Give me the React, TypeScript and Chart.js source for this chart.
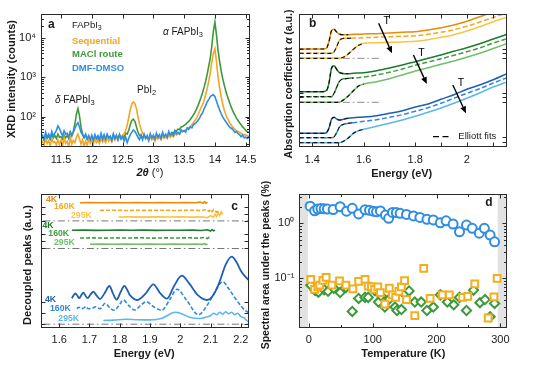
import React, { useEffect, useRef } from 'react';
import { Chart, registerables } from 'chart.js';

Chart.register(...registerables);

const FONT = "'Liberation Sans', Arial, Helvetica, sans-serif";
Chart.defaults.font.family = FONT;
const INK = '#1a1a1a';

const C_OR = '#F5A51F';
const C_GR = '#3C9A3C';
const C_BL = '#2F8DE2';
const OR = ['#EE8A05', '#F5A81E', '#F9C441'];
const GR = ['#1E7B2C', '#3E9B3E', '#6FBF6C'];
const BL = ['#1E5FB4', '#2F88DC', '#5CB6F2'];

// ---------------- Panel a : XRD ----------------
const xrdTheta = [
  11.175,
  11.2, 11.225, 11.25, 11.275, 11.3, 11.325, 11.35, 11.375, 11.4, 11.425, 11.45, 11.475,
  11.5, 11.525, 11.55, 11.575, 11.6, 11.625, 11.65, 11.675, 11.7, 11.725, 11.75, 11.775,
  11.8, 11.825, 11.85, 11.875, 11.9, 11.925, 11.95, 11.975,
  12, 12.025, 12.05, 12.075, 12.1, 12.125, 12.15, 12.175, 12.2, 12.225, 12.25, 12.275,
  12.3, 12.325, 12.35, 12.375, 12.4, 12.425, 12.45, 12.475, 12.5, 12.525, 12.55, 12.575,
  12.6, 12.625, 12.65, 12.675, 12.7, 12.725, 12.75, 12.775, 12.8, 12.825, 12.85, 12.875,
  12.9, 12.925, 12.95, 12.975,
  13, 13.025, 13.05, 13.075, 13.1, 13.125, 13.15, 13.175, 13.2, 13.225, 13.25, 13.275,
  13.3, 13.325, 13.35, 13.375, 13.4, 13.425, 13.45, 13.475, 13.5, 13.525, 13.55, 13.575,
  13.6, 13.625, 13.65, 13.675, 13.7, 13.725, 13.75, 13.775, 13.8, 13.825, 13.85, 13.875,
  13.9, 13.925, 13.95, 13.975,
  14, 14.025, 14.05, 14.075, 14.1, 14.125, 14.15, 14.175, 14.2, 14.225, 14.25, 14.275,
  14.3, 14.325, 14.35, 14.375, 14.4, 14.425, 14.45, 14.475, 14.5, 14.525, 14.55, 14.575,
  14.6,
];
const xrdMACl = [
  28,
  30, 26, 34, 28, 32, 27, 35, 29, 33, 28, 36, 30,
  31, 27, 34, 29, 33, 28, 38, 32, 42, 65, 115, 160,
  105, 55, 36, 30, 33, 27, 31, 26,
  30, 25, 32, 27, 29, 24, 31, 26, 30, 25, 33, 27,
  31, 26, 34, 28, 32, 27, 35, 29, 33, 30, 38, 36,
  45, 62, 80, 86, 76, 56, 40, 33, 34, 29, 33, 28,
  31, 27, 33, 28,
  30, 26, 34, 29, 32, 28, 36, 30, 34, 31, 38, 35,
  40, 37, 44, 43, 48, 47, 55, 56, 60, 64, 70, 76,
  85, 96, 110, 128, 155, 190, 240, 310, 410, 560, 800, 1200,
  1900, 3100, 6200, 14500,
  25000, 12000, 5000, 2600, 1500, 950, 650, 460, 340, 260, 200, 160,
  130, 110, 92, 80, 70, 62, 55, 50, 45, 42, 40, 38,
  37,
];
const xrdSequential = [
  22,
  24, 19, 27, 21, 25, 18, 28, 22, 23, 19, 26, 20,
  26, 18, 29, 21, 24, 17, 30, 20, 25, 22, 30, 36,
  28, 20, 26, 18, 24, 19, 27, 21,
  26, 20, 28, 22, 25, 21, 29, 23, 27, 22, 30, 24,
  28, 23, 31, 25, 30, 25, 33, 28, 34, 36, 45, 60,
  95, 150, 210, 235, 215, 160, 100, 65, 48, 38, 33, 28,
  30, 25, 31, 26,
  29, 24, 32, 27, 30, 26, 33, 28, 31, 28, 35, 30,
  34, 31, 37, 34, 38, 36, 42, 41, 45, 46, 50, 53,
  57, 62, 70, 80, 92, 110, 135, 170, 200, 260, 360, 520,
  800, 1300, 2400, 4000,
  5300, 2500, 1050, 550, 330, 215, 150, 115, 92, 78, 66, 58,
  52, 48, 44, 42, 40, 38, 36, 35, 34, 33, 31, 34,
  32,
];
const xrdDMFDMSO = [
  31,
  34, 26, 40, 30, 36, 28, 42, 32, 38, 45, 58, 50,
  40, 33, 44, 36, 38, 30, 42, 35, 40, 50, 62, 70,
  55, 40, 35, 29, 36, 27, 33, 26,
  34, 25, 35, 28, 33, 26, 38, 27, 35, 27, 36, 29,
  32, 25, 37, 28, 34, 26, 35, 27, 31, 24, 30, 22,
  28, 35, 40, 46, 42, 36, 30, 26, 34, 26, 36, 28,
  33, 25, 37, 29,
  34, 27, 38, 30, 35, 28, 40, 31, 36, 30, 42, 34,
  38, 33, 44, 37, 40, 36, 47, 42, 44, 40, 52, 48,
  55, 52, 62, 66, 72, 80, 92, 110, 125, 160, 190, 240,
  270, 320, 345, 360,
  320, 250, 190, 150, 120, 100, 86, 75, 66, 58, 52, 50,
  45, 40, 42, 37, 35, 31, 34, 29, 30, 28, 31, 27,
  30,
];
const xrdThetaTicks = [11.5, 12, 12.5, 13, 13.5, 14, 14.5];

// ---------------- Panel b : absorption ----------------
const absEnergy = [1.35, 1.4, 1.44, 1.455, 1.465, 1.475, 1.485, 1.495, 1.505, 1.515, 1.525, 1.54, 1.56, 1.58, 1.6, 1.65, 1.7, 1.75, 1.8, 1.85, 1.9, 1.95, 2.0, 2.05, 2.1, 2.16];
const absOrange4K = [9.8, 9.8, 9.8, 9.87, 10.53, 11.63, 11.77, 11.5, 11.3, 11.23, 11.23, 11.23, 11.27, 11.27, 11.3, 11.33, 11.4, 11.47, 11.53, 11.7, 11.93, 12.2, 12.57, 13.03, 13.47, 13.97];
const absOrange160K = [9.37, 9.37, 9.37, 9.37, 9.37, 9.37, 9.53, 10.03, 10.63, 10.83, 10.87, 10.87, 10.9, 10.9, 10.93, 10.97, 11.03, 11.07, 11.13, 11.27, 11.47, 11.73, 12.07, 12.5, 12.93, 13.43];
const absOrange295K = [8.87, 8.87, 8.87, 8.87, 8.87, 8.87, 8.87, 8.87, 8.87, 8.93, 9.03, 9.3, 9.77, 10.17, 10.37, 10.43, 10.47, 10.5, 10.57, 10.73, 10.97, 11.23, 11.6, 12.03, 12.5, 13.03];
const absGreen4K = [5.53, 5.53, 5.53, 5.63, 6.37, 7.87, 8.13, 7.77, 7.47, 7.37, 7.33, 7.33, 7.37, 7.4, 7.43, 7.63, 7.9, 8.2, 8.53, 8.87, 9.2, 9.57, 9.93, 10.33, 10.77, 11.3];
const absGreen160K = [5.03, 5.03, 5.03, 5.03, 5.03, 5.03, 5.37, 5.97, 6.53, 6.77, 6.83, 6.87, 6.9, 6.93, 7.0, 7.2, 7.47, 7.8, 8.17, 8.5, 8.83, 9.17, 9.53, 9.9, 10.37, 10.87];
const absGreen295K = [4.47, 4.47, 4.47, 4.47, 4.47, 4.47, 4.47, 4.47, 4.47, 4.6, 4.77, 5.1, 5.63, 6.1, 6.3, 6.53, 6.83, 7.2, 7.6, 7.93, 8.27, 8.6, 8.97, 9.37, 9.83, 10.37];
const absBlue4K = [1.37, 1.37, 1.37, 1.43, 1.87, 2.77, 2.97, 2.8, 2.7, 2.73, 2.8, 2.87, 2.93, 2.97, 3.0, 3.13, 3.37, 3.63, 4.0, 4.3, 4.77, 5.23, 5.77, 6.2, 6.7, 7.37];
const absBlue160K = [0.93, 0.93, 0.93, 0.93, 0.93, 0.93, 1.03, 1.43, 1.97, 2.2, 2.3, 2.37, 2.43, 2.5, 2.57, 2.73, 2.97, 3.23, 3.57, 3.93, 4.37, 4.87, 5.37, 5.83, 6.37, 6.97];
const absBlue295K = [0.43, 0.43, 0.43, 0.43, 0.43, 0.43, 0.43, 0.43, 0.43, 0.5, 0.63, 0.9, 1.37, 1.63, 1.77, 2.07, 2.37, 2.7, 3.07, 3.47, 3.9, 4.37, 4.87, 5.4, 5.97, 6.53];
const absFitEnd = [12, 13, 15]; // number of points covered by the Elliott fits (4K, 160K, 295K)
const absBaselines = [8.87, 4.47];
const absBaselineEnergy = [1.35, 1.67];
const absTicksX = [1.4, 1.5, 1.6, 1.7, 1.8, 1.9, 2, 2.1];
const absTicksY = [0.53, 1.03, 4.47, 4.97, 5.43, 8.87, 9.37, 9.8];
const arrowStartE = [1.658, 1.793, 1.946];
const arrowStartA = [12.37, 9.2, 6.2];
const arrowEndE = [1.71, 1.845, 1.997];
const arrowEndA = [9.37, 6.3, 3.37];

// ---------------- Panel c : decoupled peaks ----------------
const cOr4kE = [1.669, 1.7, 1.74, 1.78, 1.82, 1.86, 1.9, 1.94, 1.98, 2.02, 2.05, 2.065, 2.075, 2.08, 2.085, 2.09];
const cOr4kY = [12.5, 12.52, 12.49, 12.51, 12.5, 12.52, 12.49, 12.51, 12.5, 12.52, 12.49, 12.56, 12.44, 12.6, 12.45, 12.55];
const cOr160E = [1.735, 1.78, 1.82, 1.86, 1.9, 1.94, 1.98, 2.02, 2.05, 2.07, 2.085, 2.095, 2.1, 2.105, 2.11, 2.12, 2.13];
const cOr160Y = [11.73, 11.75, 11.72, 11.74, 11.73, 11.75, 11.72, 11.74, 11.75, 11.7, 11.82, 11.62, 11.85, 11.6, 11.8, 11.55, 11.75];
const cOr295E = [1.796, 1.84, 1.88, 1.92, 1.96, 2.0, 2.04, 2.07, 2.09, 2.1, 2.11, 2.115, 2.12, 2.125, 2.13, 2.135, 2.14];
const cOr295Y = [11.07, 11.08, 11.06, 11.08, 11.07, 11.09, 11.06, 11.1, 11.0, 11.2, 11.05, 11.35, 11.1, 11.5, 11.2, 11.6, 11.3];
const cGr4kE = [1.642, 1.68, 1.72, 1.76, 1.8, 1.84, 1.88, 1.92, 1.96, 2.0, 2.04, 2.07, 2.09, 2.1, 2.105, 2.11, 2.115];
const cGr4kY = [9.74, 9.76, 9.73, 9.75, 9.76, 9.74, 9.76, 9.73, 9.75, 9.74, 9.76, 9.72, 9.8, 9.66, 9.82, 9.68, 9.76];
const cGr160E = [1.669, 1.71, 1.75, 1.79, 1.83, 1.87, 1.91, 1.95, 1.99, 2.03, 2.06, 2.08, 2.09, 2.095, 2.1];
const cGr160Y = [8.97, 8.98, 8.96, 8.98, 8.97, 8.99, 8.96, 8.98, 8.97, 8.99, 8.96, 9.02, 8.92, 9.03, 8.95];
const cGr295E = [1.702, 1.74, 1.78, 1.82, 1.86, 1.9, 1.94, 1.98, 2.02, 2.05, 2.07, 2.08, 2.085, 2.09];
const cGr295Y = [8.35, 8.36, 8.34, 8.36, 8.35, 8.37, 8.34, 8.36, 8.35, 8.37, 8.33, 8.4, 8.3, 8.38];
const cBl4kE = [1.642, 1.648, 1.653, 1.66, 1.666, 1.673, 1.68, 1.687, 1.694, 1.703, 1.713, 1.724, 1.735, 1.75, 1.766, 1.778, 1.79, 1.802, 1.815, 1.835, 1.857, 1.885, 1.911, 1.935, 1.956, 1.98, 2.005, 2.03, 2.06, 2.088, 2.11, 2.13, 2.15, 2.17, 2.185, 2.2, 2.215, 2.231];
const cBl4kY = [2.94, 3.25, 3.44, 3.2, 2.95, 3.25, 3.5, 3.2, 2.95, 3.3, 3.6, 3.2, 2.87, 3.45, 4.17, 3.4, 2.8, 3.5, 4.17, 3.2, 2.77, 3.4, 4.34, 3.4, 2.9, 4.2, 5.2, 4.4, 3.2, 2.77, 3.3, 4.6, 6.3, 7.1, 6.6, 5.7, 5.1, 4.6];
const cBl160E = [1.658, 1.665, 1.672, 1.68, 1.688, 1.696, 1.71, 1.72, 1.735, 1.752, 1.767, 1.782, 1.797, 1.812, 1.83, 1.85, 1.868, 1.887, 1.912, 1.939, 1.965, 1.989, 2.02, 2.06, 2.09, 2.115, 2.14, 2.16, 2.18, 2.2, 2.215, 2.231];
const cBl160Y = [1.9, 2.05, 1.9, 1.95, 2.1, 1.9, 1.95, 2.1, 1.9, 2.44, 2.0, 1.75, 2.2, 2.77, 2.2, 1.77, 2.2, 2.6, 2.1, 1.75, 2.8, 3.84, 2.8, 1.3, 2.3, 3.6, 4.6, 3.9, 3.0, 2.2, 1.7, 1.45];
const cBl295E = [1.746, 1.78, 1.82, 1.86, 1.9, 1.94, 1.965, 1.983, 2.0, 2.03, 2.066, 2.09, 2.1, 2.11, 2.12, 2.13, 2.14, 2.15, 2.16, 2.17, 2.18, 2.19, 2.2, 2.21, 2.22, 2.231];
const cBl295Y = [0.72, 0.76, 0.85, 0.8, 0.78, 0.95, 1.35, 1.55, 1.45, 1.05, 0.92, 1.1, 1.2, 1.45, 1.3, 1.55, 1.35, 1.6, 1.4, 1.55, 1.3, 1.45, 1.1, 1.0, 0.7, 0.55];
const cBaselines = [10.68, 7.92, 0.35];
const cBaselineEnergy = [1.5, 2.3];
const cTicksX = [1.6, 1.7, 1.8, 1.9, 2, 2.1, 2.2];
const cTicksY = [0.33, 1.43, 2.6, 8.0, 8.67, 9.33, 10.7, 11.37, 12.1];

// ---------------- Panel d : spectral area ----------------
const dTempBlue = [2, 9, 14, 19, 24, 29, 38, 49, 59, 68, 78, 88, 95, 101, 106, 112, 120, 125, 131, 137, 143, 153, 164, 174, 185, 195, 206, 215, 226, 236, 247, 256, 267, 275, 284, 291];
const dAreaBlue = [2.05, 1.69, 1.82, 1.85, 1.83, 1.82, 1.78, 2.0, 1.66, 1.87, 1.48, 1.76, 1.72, 1.66, 1.62, 1.68, 1.41, 1.23, 1.58, 1.57, 1.52, 1.45, 1.36, 1.28, 1.18, 1.15, 1.02, 1.11, 0.97, 0.7, 0.93, 0.81, 0.66, 0.81, 0.61, 0.46];
const dTempOrange = [3, 9, 14, 17, 22, 27, 36, 48, 58, 69, 78, 88, 93, 98, 103, 108, 112, 119, 126, 131, 136, 141, 145, 150, 153, 166, 180, 190, 209, 220, 241, 249, 260, 281, 290, 295];
const dAreaOrange = [0.096, 0.063, 0.07, 0.075, 0.092, 0.104, 0.075, 0.09, 0.075, 0.064, 0.088, 0.096, 0.072, 0.07, 0.063, 0.07, 0.055, 0.034, 0.066, 0.05, 0.045, 0.058, 0.07, 0.091, 0.041, 0.021, 0.152, 0.043, 0.05, 0.05, 0.045, 0.047, 0.079, 0.019, 0.046, 0.1];
const dTempGreen = [3, 10, 15, 24, 30, 39, 49, 58, 68, 78, 88, 93, 103, 109, 113, 119, 126, 135, 138, 145, 150, 157, 166, 176, 185, 195, 206, 217, 227, 236, 247, 258, 268, 276, 284, 291];
const dAreaGreen = [0.075, 0.06, 0.056, 0.062, 0.058, 0.066, 0.055, 0.068, 0.025, 0.043, 0.045, 0.045, 0.06, 0.037, 0.048, 0.03, 0.042, 0.03, 0.026, 0.027, 0.052, 0.059, 0.037, 0.037, 0.026, 0.03, 0.05, 0.037, 0.033, 0.045, 0.026, 0.061, 0.036, 0.041, 0.02, 0.035];
const dExcluded = [[-20, -1.5], [296, 320]];
const dTicksX = [0, 50, 100, 150, 200, 250, 300];

// ---------------- helpers ----------------
const pts = (xs: number[], ys: number[]) => xs.map((x, i) => ({ x, y: ys[i] }));
const fnt = (size: number, style = '') => `${style} ${size}px ${FONT}`.trim();
const SUP: Record<string, string> = { '0': '⁰', '1': '¹', '2': '²', '3': '³', '4': '⁴', '5': '⁵', '-': '⁻' };
const powLabel = (v: number) => {
  const e = Math.log10(v);
  const r = Math.round(e);
  return Math.abs(e - r) < 1e-6 ? '10' + String(r).split('').map((c) => SUP[c]).join('') : '';
};
const logTicks = (lo: number, hi: number) => {
  const out: number[] = [];
  for (let e = -3; e <= 6; e++) for (let m = 1; m <= 9; m++) {
    const v = +(m * Math.pow(10, e)).toPrecision(6);
    if (v >= lo && v <= hi) out.push(v);
  }
  return out;
};
const decLabel = (v: number) => (Number.isInteger(v) ? String(v) : v.toFixed(1));

function axis(o: any) {
  return {
    type: o.type || 'linear',
    min: o.min,
    max: o.max,
    bounds: 'data',
    grid: { display: false, drawTicks: false },
    border: { display: false },
    afterBuildTicks: (s: any) => { s.ticks = o.ticks.map((v: number) => ({ value: v })); },
    afterFit: (s: any) => { if (o.horizontal) s.height = o.size; else s.width = o.size; },
    ticks: {
      display: o.show !== false,
      autoSkip: false,
      maxRotation: 0,
      minRotation: 0,
      padding: o.pad ?? 5,
      color: INK,
      font: { family: FONT, size: 11 },
      callback: (v: any) => o.label(Number(v)),
    },
  };
}

const baseOptions = (pad: any, scales: any) => ({
  animation: false,
  responsive: false,
  maintainAspectRatio: false,
  events: [],
  layout: { padding: { left: 0, bottom: 0, ...pad } },
  plugins: { legend: { display: false }, tooltip: { enabled: false } },
  scales,
});

const line = (data: any[], color: string, width = 1.5, dash: number[] = [], smooth = false) => ({
  data,
  borderColor: color,
  backgroundColor: color,
  borderWidth: width,
  borderDash: dash,
  pointRadius: 0,
  fill: false,
  tension: 0,
  cubicInterpolationMode: smooth ? 'monotone' : 'default',
});

function framePlugin(xAllMajor = false, yAllMajor = false) {
  return {
    id: 'frame',
    afterDraw(chart: any) {
      const { ctx, chartArea: a, scales } = chart;
      const L = Math.round(a.left) + 0.5, R = Math.round(a.right) - 0.5;
      const T = Math.round(a.top) + 0.5, B = Math.round(a.bottom) - 0.5;
      ctx.save();
      ctx.strokeStyle = '#2a2a2a';
      ctx.lineWidth = 1;
      ctx.beginPath();
      for (const t of scales.x.ticks) {
        const p = Math.round(scales.x.getPixelForValue(t.value)) + 0.5;
        if (p < L || p > R) continue;
        const len = xAllMajor || t.label !== '' ? 4 : 2.5;
        ctx.moveTo(p, B); ctx.lineTo(p, B - len);
        ctx.moveTo(p, T); ctx.lineTo(p, T + len);
      }
      for (const t of scales.y.ticks) {
        const p = Math.round(scales.y.getPixelForValue(t.value)) + 0.5;
        if (p < T || p > B) continue;
        const len = yAllMajor || t.label !== '' ? 4 : 2.5;
        ctx.moveTo(L, p); ctx.lineTo(L + len, p);
        ctx.moveTo(R, p); ctx.lineTo(R - len, p);
      }
      ctx.stroke();
      ctx.strokeRect(L, T, R - L, B - T);
      ctx.restore();
    },
  };
}

type Part = { t: string; f: string; dy?: number };
function drawParts(ctx: any, parts: Part[], x: number, y: number, color: string, align = 'left', rot = 0) {
  ctx.save();
  ctx.translate(x, y);
  if (rot) ctx.rotate(rot);
  ctx.textBaseline = 'middle';
  ctx.textAlign = 'left';
  ctx.fillStyle = color;
  let w = 0;
  for (const p of parts) { ctx.font = p.f; w += ctx.measureText(p.t).width; }
  let cx = align === 'center' ? -w / 2 : 0;
  for (const p of parts) {
    ctx.font = p.f;
    ctx.fillText(p.t, cx, p.dy || 0);
    cx += ctx.measureText(p.t).width;
  }
  ctx.restore();
}

function drawArrow(ctx: any, x1: number, y1: number, x2: number, y2: number) {
  const ang = Math.atan2(y2 - y1, x2 - x1);
  const Lh = 7, Wh = 3;
  const bx = x2 - Lh * Math.cos(ang), by = y2 - Lh * Math.sin(ang);
  ctx.beginPath(); ctx.moveTo(x1, y1); ctx.lineTo(bx, by); ctx.stroke();
  ctx.beginPath();
  ctx.moveTo(x2, y2);
  ctx.lineTo(bx + Wh * Math.sin(ang), by - Wh * Math.cos(ang));
  ctx.lineTo(bx - Wh * Math.sin(ang), by + Wh * Math.cos(ang));
  ctx.closePath(); ctx.fill();
}

// ---------------- chart builders ----------------
function buildA() {
  return {
    type: 'line',
    data: {
      datasets: [
        line(pts(xrdTheta, xrdDMFDMSO), C_BL, 1.6),
        line(pts(xrdTheta, xrdSequential), C_OR, 1.6),
        line(pts(xrdTheta, xrdMACl), C_GR, 1.6),
      ],
    },
    options: baseOptions({ top: 14, right: 20 }, {
      x: axis({ min: 11.175, max: 14.57, ticks: xrdThetaTicks, label: (v: number) => String(v), size: 38, horizontal: true, pad: 6 }),
      y: axis({ type: 'logarithmic', min: 17, max: 40000, ticks: logTicks(17, 40000), label: powLabel, size: 41 }),
    }),
    plugins: [framePlugin(), {
      id: 'textA',
      afterDraw(chart: any) {
        const ctx = chart.ctx;
        drawParts(ctx, [{ t: 'a', f: fnt(12, 'bold') }], 48, 25, INK);
        drawParts(ctx, [{ t: 'FAPbI', f: fnt(9.5) }, { t: '3', f: fnt(7), dy: 3 }], 72, 25, INK);
        drawParts(ctx, [{ t: 'Sequential', f: fnt(9.5, 'bold') }], 72, 41, C_OR);
        drawParts(ctx, [{ t: 'MACl route', f: fnt(9.5, 'bold') }], 72, 54.5, C_GR);
        drawParts(ctx, [{ t: 'DMF-DMSO', f: fnt(9.5, 'bold') }], 72, 68, C_BL);
        drawParts(ctx, [{ t: 'α', f: fnt(10, 'italic') }, { t: ' FAPbI', f: fnt(10) }, { t: '3', f: fnt(7.5), dy: 3 }], 163, 32, INK);
        drawParts(ctx, [{ t: 'PbI', f: fnt(10) }, { t: '2', f: fnt(7.5), dy: 3 }], 137, 90, INK);
        drawParts(ctx, [{ t: 'δ', f: fnt(10, 'italic') }, { t: ' FAPbI', f: fnt(10) }, { t: '3', f: fnt(7.5), dy: 3 }], 55, 100, INK);
        drawParts(ctx, [{ t: 'XRD intensity (counts)', f: fnt(11, 'bold') }], 12, 79, INK, 'center', -Math.PI / 2);
        drawParts(ctx, [{ t: '2θ', f: fnt(11, 'bold italic') }, { t: ' (°)', f: fnt(11) }], 150, 173, INK, 'center');
      },
    }],
  };
}

function buildB() {
  const groups = [
    [absOrange4K, absOrange160K, absOrange295K, OR],
    [absGreen4K, absGreen160K, absGreen295K, GR],
    [absBlue4K, absBlue160K, absBlue295K, BL],
  ] as any[];
  const fits: any[] = [];
  const curves: any[] = [];
  groups.forEach((g) => {
    for (let k = 0; k < 3; k++) {
      fits.push(line(pts(absEnergy.slice(0, absFitEnd[k]), g[k].slice(0, absFitEnd[k])), '#111', 1.2, [4, 3], true));
      curves.push(line(pts(absEnergy, g[k]), g[3][k], 1.5, k === 1 ? [5, 2.5] : [], true));
    }
  });
  const bases = absBaselines.map((v) => line(pts(absBaselineEnergy, [v, v]), '#8a8a8a', 1, [7, 3, 1.5, 3]));
  return {
    type: 'line',
    data: { datasets: [...fits, ...curves, ...bases] },
    options: baseOptions({ top: 14, right: 40.3 }, {
      x: axis({ min: 1.35, max: 2.155, ticks: absTicksX, label: (v: number) => (Math.round(v * 10) % 2 === 0 ? decLabel(v) : ''), size: 38, horizontal: true, pad: 6 }),
      y: axis({ min: 0, max: 13.3, ticks: absTicksY, label: () => '', size: 29.3, show: false }),
    }),
    plugins: [framePlugin(true, true), {
      id: 'textB',
      afterDraw(chart: any) {
        const { ctx, scales } = chart;
        ctx.save();
        ctx.strokeStyle = '#000';
        ctx.fillStyle = '#000';
        ctx.lineWidth = 1.4;
        for (let i = 0; i < arrowStartE.length; i++) {
          const x1 = scales.x.getPixelForValue(arrowStartE[i]);
          const y1 = scales.y.getPixelForValue(arrowStartA[i]);
          const x2 = scales.x.getPixelForValue(arrowEndE[i]);
          const y2 = scales.y.getPixelForValue(arrowEndA[i]);
          drawArrow(ctx, x1, y1, x2, y2);
          drawParts(ctx, [{ t: 'T', f: fnt(10.5) }], x1 + 8, y1 - 2, '#000', 'center');
        }
        ctx.lineWidth = 1.3;
        ctx.setLineDash([6, 3.5]);
        ctx.beginPath(); ctx.moveTo(163, 136.7); ctx.lineTo(179, 136.7); ctx.stroke();
        ctx.restore();
        drawParts(ctx, [{ t: 'Elliott fits', f: fnt(9.5) }], 188.3, 136.7, INK);
        drawParts(ctx, [{ t: 'b', f: fnt(12, 'bold') }], 39, 24, INK);
        drawParts(ctx, [{ t: 'Absorption coefficient ', f: fnt(10.5, 'bold') }, { t: 'α', f: fnt(10.5, 'bold italic') }, { t: ' (a.u.)', f: fnt(10.5, 'bold') }], 19.3, 84, INK, 'center', -Math.PI / 2);
        drawParts(ctx, [{ t: 'Energy (eV)', f: fnt(11, 'bold') }], 131.7, 174, INK, 'center');
      },
    }],
  };
}

function buildC() {
  const ds = [
    line(pts(cBl4kE, cBl4kY), BL[0], 1.8, [], true),
    line(pts(cBl160E, cBl160Y), BL[1], 1.6, [4, 2], true),
    line(pts(cBl295E, cBl295Y), BL[2], 1.6, [], true),
    line(pts(cGr4kE, cGr4kY), GR[0], 1.6),
    line(pts(cGr160E, cGr160Y), GR[1], 1.6, [4, 2]),
    line(pts(cGr295E, cGr295Y), GR[2], 1.6),
    line(pts(cOr4kE, cOr4kY), OR[0], 1.6),
    line(pts(cOr160E, cOr160Y), OR[1], 1.6, [4, 2]),
    line(pts(cOr295E, cOr295Y), OR[2], 1.6),
    ...cBaselines.map((v) => line(pts(cBaselineEnergy, [v, v]), '#777', 1, [7, 3, 1.5, 3])),
  ];
  return {
    type: 'line',
    data: { datasets: ds },
    options: baseOptions({ top: 9, right: 16 }, {
      x: axis({ min: 1.54, max: 2.227, ticks: cTicksX, label: decLabel, size: 50.3, horizontal: true, pad: 6 }),
      y: axis({ min: 0, max: 13.37, ticks: cTicksY, label: () => '', size: 41, show: false }),
    }),
    plugins: [framePlugin(false, true), {
      id: 'textC',
      afterDraw(chart: any) {
        const ctx = chart.ctx;
        const lf = fnt(8.7, 'bold');
        drawParts(ctx, [{ t: '4K', f: lf }], 46, 14.5, OR[0]);
        drawParts(ctx, [{ t: '160K', f: lf }], 54, 22, OR[1]);
        drawParts(ctx, [{ t: '295K', f: lf }], 71, 30.3, OR[2]);
        drawParts(ctx, [{ t: '4K', f: lf }], 42.5, 40.5, GR[0]);
        drawParts(ctx, [{ t: '160K', f: lf }], 48.3, 48.8, GR[1]);
        drawParts(ctx, [{ t: '295K', f: lf }], 54, 57.2, GR[2]);
        drawParts(ctx, [{ t: '4K', f: lf }], 45, 115, BL[0]);
        drawParts(ctx, [{ t: '160K', f: lf }], 50, 123.3, BL[1]);
        drawParts(ctx, [{ t: '295K', f: lf }], 58.3, 134, BL[2]);
        drawParts(ctx, [{ t: 'c', f: fnt(12, 'bold') }], 234.5, 21.7, INK, 'center');
        drawParts(ctx, [{ t: 'Decoupled peaks (a.u.)', f: fnt(11, 'bold') }], 28.3, 80, INK, 'center', -Math.PI / 2);
        drawParts(ctx, [{ t: 'Energy (eV)', f: fnt(11, 'bold') }], 144.2, 169, INK, 'center');
      },
    }],
  };
}

function buildD() {
  const sc = (xs: number[], ys: number[], style: string, r: number, color: string) => ({
    data: pts(xs, ys),
    showLine: false,
    pointStyle: style,
    pointRadius: r,
    pointBorderWidth: 2,
    pointBorderColor: color,
    pointBackgroundColor: '#ffffff',
    borderColor: color,
    backgroundColor: '#ffffff',
  });
  return {
    type: 'scatter',
    data: {
      datasets: [
        sc(dTempBlue, dAreaBlue, 'circle', 4.5, C_BL),
        sc(dTempOrange, dAreaOrange, 'rect', 4.8, '#F2AE1C'),
        sc(dTempGreen, dAreaGreen, 'rectRot', 4.6, C_GR),
      ],
    },
    options: baseOptions({ top: 16, right: 40.3 }, {
      x: axis({ min: -15, max: 310, ticks: dTicksX, label: (v: number) => (v % 100 === 0 ? String(v) : ''), size: 50.3, horizontal: true, pad: 6 }),
      y: axis({ type: 'logarithmic', min: 0.01265, max: 3.41, ticks: logTicks(0.0126, 3.41), label: powLabel, size: 44.3 }),
    }),
    plugins: [{
      id: 'bands',
      beforeDatasetsDraw(chart: any) {
        const { ctx, chartArea: a, scales } = chart;
        ctx.save();
        ctx.fillStyle = '#e2e2e2';
        for (const [lo, hi] of dExcluded) {
          const x0 = Math.max(a.left, scales.x.getPixelForValue(lo));
          const x1 = Math.min(a.right, scales.x.getPixelForValue(hi));
          if (x1 > x0) ctx.fillRect(x0, a.top, x1 - x0, a.bottom - a.top);
        }
        ctx.restore();
      },
    }, framePlugin(), {
      id: 'textD',
      afterDraw(chart: any) {
        const ctx = chart.ctx;
        drawParts(ctx, [{ t: 'd', f: fnt(12, 'bold') }], 233.8, 25, INK, 'center');
        drawParts(ctx, [{ t: 'Spectral area under the peaks (%)', f: fnt(10.5, 'bold') }], 10.7, 87, INK, 'center', -Math.PI / 2);
        drawParts(ctx, [{ t: 'Temperature (K)', f: fnt(11, 'bold') }], 148.3, 176, INK, 'center');
      },
    }],
  };
}

function ChartBox({ left, top, width, height, build }: { left: number; top: number; width: number; height: number; build: () => any }) {
  const ref = useRef<HTMLCanvasElement>(null);
  useEffect(() => {
    const chart = new Chart(ref.current as HTMLCanvasElement, build());
    return () => chart.destroy();
  }, []);
  return (
    <canvas
      ref={ref}
      width={width}
      height={height}
      style={{ position: 'absolute', left, top, width, height }}
    />
  );
}

export default function App() {
  return (
    <div style={{ position: 'absolute', left: 0, top: 0, width: 547, height: 378, background: '#ffffff', overflow: 'hidden' }}>
      <ChartBox left={0} top={0} width={270} height={185} build={buildA} />
      <ChartBox left={270} top={0} width={277} height={185} build={buildB} />
      <ChartBox left={0} top={185} width={265} height={193} build={buildC} />
      <ChartBox left={255} top={178} width={292} height={200} build={buildD} />
    </div>
  );
}
